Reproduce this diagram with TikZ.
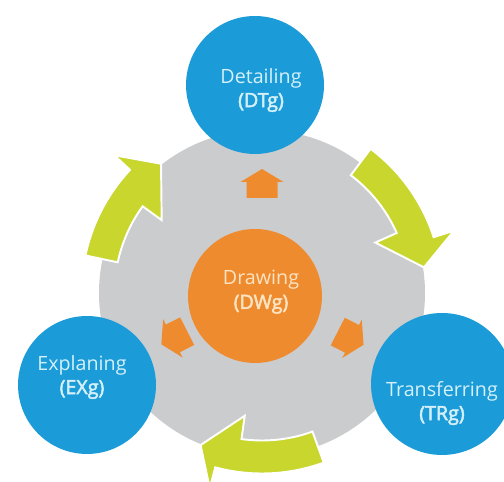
\documentclass[tikz,border=0pt]{standalone}
\usepackage{fontspec}
\setmainfont{Open Sans}[BoldFont={Open Sans}, BoldFeatures={FakeBold=2.5}]
\usepackage{tikz}
\definecolor{disc}{HTML}{CBCCCE}
\definecolor{coreorange}{HTML}{EF8B2F}
\definecolor{stageblue}{HTML}{1B9BD7}
\definecolor{loopgreen}{HTML}{C8D62E}
\definecolor{stagetext}{HTML}{D4F0FA}
\definecolor{coretext}{HTML}{FCE4C3}
\tikzset{
  stage/.style={circle, fill=stageblue, minimum size=2.76cm, inner sep=0pt},
  core/.style={circle, fill=coreorange, minimum size=2.68cm, inner sep=0pt},
  loop/.style={fill=loopgreen, draw=white, line width=1.1pt},
  push/.style={fill=coreorange},
  lbl/.style={align=center, text=stagetext, font=\fontsize{11.2}{13.7}\selectfont}
}

\begin{document}
\begin{tikzpicture}[x=0.02cm, y=0.02cm]
\useasboundingbox (0,0) rectangle (504,482);
\clip (0,0) rectangle (504,482);

% grey disc
\fill[disc] (262,189) circle[radius=163];

% green arrows round the rim
\begin{scope}[shift={(262,189)}]
\foreach \a/\o/\i/\t in {53/18/24/9, -70/-105/-98/-112, 168/137/144/128}
  \draw[loop] (\a:180.5) arc[start angle=\a, end angle=\o, radius=180.5]
    -- (\o:202) -- (\t:164) -- (\i:124) -- (\i:147.5)
    arc[start angle=\i, end angle=\a, radius=147.5] -- cycle;

% small block arrows out of the centre
\foreach \ang/\d in {90/109, 207/98, 333/99}
  \fill[push, rotate=\ang] (\d-14,-15.5) -- (\d+2,-15.5) -- (\d+2,-21.5)
    -- (\d+15,0) -- (\d+2,21.5) -- (\d+2,15.5) -- (\d-14,15.5) -- cycle;
\end{scope}

% centre
\node[core] (dwg) at (255,186) {};
\node[lbl, text=coretext] (dwglbl) at (261,190) {Drawing\\\textbf{(DWg)}};

% stages
\node[stage] (dtg) at (255,397) {};
\node[stage] (exg) at (87,97) {};
\node[stage, minimum size=2.84cm] (trg) at (442,98) {};
\node[lbl] (dtglbl) at (261,392) {Detailing\\\textbf{(DTg)}};
\node[lbl] (exglbl) at (82,105) {Explaning\\\textbf{(EXg)}};
\node[lbl] (trglbl) at (442,79) {Transferring\\\textbf{(TRg)}};
\end{tikzpicture}
\end{document}
